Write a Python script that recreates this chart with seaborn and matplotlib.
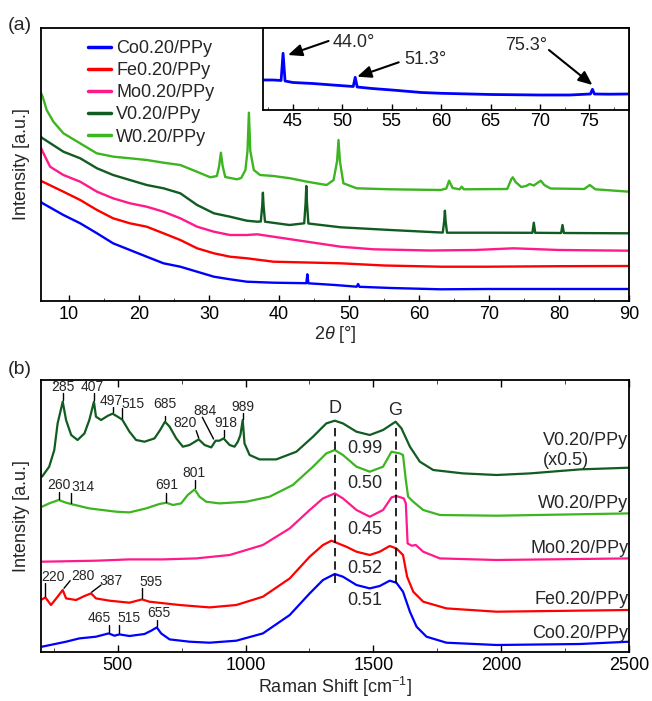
import matplotlib.pyplot as plt
import pandas as pd
import seaborn as sns
from matplotlib.ticker import MultipleLocator

sns.set_style('ticks')
plt.rcParams['font.family'] = ['Liberation Sans', 'DejaVu Sans']
plt.rcParams['mathtext.fontset'] = 'custom'
plt.rcParams['mathtext.rm'] = 'Liberation Sans'
plt.rcParams['mathtext.it'] = 'Liberation Sans:italic'

samples = ['Co0.20/PPy', 'Fe0.20/PPy', 'Mo0.20/PPy', 'V0.20/PPy', 'W0.20/PPy']
colors = ['#0000ff', '#ff0000', '#ff1a8c', '#115c20', '#3cb521']

# ---- XRD, offset intensity (a.u.) ----
co_tt = [6.0, 6.24, 9.2, 11.6, 14.0, 16.3, 18.7, 21.1, 23.5, 25.9, 28.3, 30.7, 33.0, 35.4, 39.2,
         43.9, 44.05, 44.2, 48.0, 51.1, 51.3, 51.5, 56.0, 63.1, 70.0, 80.0, 90.0]
co_xrd = [99, 97.7, 86, 77.7, 67.7, 57.7, 51, 44.3, 37.7, 34.3, 29.3, 24.3, 21.7, 19.3, 18.3,
          17.8, 26.7, 17.7, 16, 14.3, 17, 14.2, 13, 11.7, 12, 12, 12]

fe_tt = [6.0, 6.24, 9.2, 11.6, 14.0, 16.3, 18.7, 21.1, 23.5, 25.9, 28.3, 30.7, 33.0, 35.4, 39.2,
         44.0, 48.8, 55.0, 63.1, 70.0, 80.0, 90.0]
fe_xrd = [120, 119.3, 109.3, 101, 91, 82.7, 77.7, 74.3, 67.7, 61, 52.7, 47.7, 44.3, 42.7, 39.3,
          38.5, 37.7, 35.5, 34.3, 34.3, 34.8, 35]

mo_tt = [6.0, 6.24, 7.3, 9.2, 11.6, 14.0, 16.3, 18.7, 21.1, 23.5, 25.9, 28.3, 30.7, 33.0, 35.4,
         36.9, 39.2, 44.0, 48.8, 53.5, 61.6, 68.0, 73.5, 80.0, 90.0]
mo_xrd = [153, 149.3, 134.3, 126, 119.3, 109.3, 102.7, 97.7, 94.3, 89.3, 82.7, 74.3, 69.3, 66, 66,
          66.7, 64.3, 59.3, 54.3, 51.7, 50.5, 51, 52.7, 51, 50.3]

v_tt = [6.0, 6.24, 9.2, 11.6, 14.0, 16.3, 18.7, 21.1, 23.5, 25.9, 28.3, 30.7, 33.0, 35.4, 36.9,
        37.4, 37.6, 37.7, 37.8, 38.0, 41.5, 43.6, 43.8, 43.9, 44.0, 44.2, 48.8, 55.9, 63.1,
        63.4, 63.6, 63.7, 63.8, 64.0, 70.0, 76.2, 76.4, 76.6, 80.3, 80.5, 80.7, 90.0]
v_xrd = [164, 162.7, 149.3, 142.7, 132.7, 126, 121, 116, 112.7, 107.7, 96, 87.7, 84.3, 80.3, 79.3,
         79.5, 95, 108.3, 95, 79.3, 76, 77.7, 98, 115, 98, 77.5, 73.7, 71, 68.5,
         68.5, 80, 90.3, 80, 68.3, 68.3, 68.2, 78.3, 68.2, 68, 76, 68, 67.7]

w_tt = [6.0, 6.24, 6.81, 7.77, 9.2, 11.58, 13.96, 16.35, 18.73, 21.12, 23.5, 25.89, 28.27, 30.18,
        31.13, 31.45, 31.7, 31.95, 32.32, 33.99, 34.6, 35.2, 35.5, 35.7, 35.9, 36.4, 37.3, 39.2,
        41.6, 44.0, 46.8, 47.8, 48.3, 48.5, 48.7, 49.2, 51.1, 55.9, 63.1, 63.9, 64.3, 64.8, 65.8,
        66.1, 66.4, 72.6, 73.2, 73.4, 73.8, 74.6, 75.3, 75.8, 76.4, 77.0, 77.4, 77.9, 78.8, 83.6,
        84.4, 85.2, 90.0]
w_xrd = [208, 204.3, 191, 179.3, 167.7, 157.7, 147.7, 144.3, 142.7, 141, 138.3, 136, 129.3, 123.7,
         125, 135, 148.3, 135, 124, 121.7, 123, 131, 150, 188.3, 150, 131, 126, 125,
         122.7, 119.3, 116, 121, 140, 161, 140, 117.7, 112.7, 111.7, 111, 112.5, 120.3, 113, 111.7,
         114.3, 111.7, 112, 122, 123.7, 119, 114, 115, 117, 115.5, 118.5, 120.3, 116, 112.5, 112,
         116, 111.7, 109.3]

# inset: Co0.20/PPy zoom
inset_tt = [42.0, 43.0, 43.8, 44.0, 44.2, 45.0, 47.0, 49.0, 51.1, 51.3, 51.5, 53.0, 55.0, 58.0,
            60.0, 65.0, 70.0, 73.0, 75.1, 75.3, 75.5, 77.0, 79.0]
inset_xrd = [30, 30, 29.5, 56.7, 29, 27.5, 26.5, 25, 23.5, 32.7, 23, 21.5, 20, 17.5,
             16.7, 15.5, 15, 15, 16, 20.7, 16, 15.8, 16]

# ---- Raman, offset intensity (a.u.) ----
co_rs = [204, 298, 350, 415, 465, 487, 507, 546, 605, 631, 653, 670, 703, 781, 859, 964, 1068,
         1173, 1251, 1303, 1349, 1381, 1434, 1486, 1525, 1564, 1590, 1616, 1643, 1669, 1708,
         1786, 1982, 2308, 2500]
co_int = [5, 10, 13.3, 15, 18.3, 16, 17.3, 15.7, 17.7, 21, 24.3, 18.3, 12.3, 10, 9, 11, 18.3,
          36.7, 58.3, 71.7, 77.7, 75, 66.7, 63.3, 65.7, 71, 69, 60, 40, 25, 15,
          9, 6.7, 7.7, 10]

fe_rs = [204, 217, 239, 265, 285, 298, 337, 370, 396, 415, 468, 546, 595, 624, 742, 859, 964,
         1068, 1173, 1251, 1303, 1336, 1394, 1434, 1486, 1525, 1564, 1590, 1616, 1632, 1656,
         1695, 1786, 1982, 2500]
fe_int = [52.3, 54.3, 46.7, 55, 61.7, 53.3, 51.7, 55.7, 58.3, 53.3, 51, 49, 52.3, 50, 46.7, 44.3,
          46.7, 55, 73.3, 95, 106.7, 111, 105, 100, 96.7, 100, 105.7, 103.3, 96.7, 75, 60,
          50, 43.3, 40, 41.7]

mo_rs = [204, 415, 546, 676, 807, 938, 1068, 1173, 1251, 1303, 1349, 1381, 1434, 1486, 1538,
         1571, 1590, 1619, 1627, 1634, 1650, 1666, 1695, 1760, 1982, 2500]
mo_int = [90, 91, 92.3, 92.3, 93.3, 96.7, 106.7, 123.3, 141.7, 153.3, 158.3, 153.3, 141.7, 135,
          141.7, 154.3, 155.7, 153.3, 148.3, 108.3, 106, 106.7, 100, 93.3, 91.7, 93.3]

v_rs = [204, 232, 252, 265, 285, 298, 318, 343, 370, 389, 407, 415, 435, 462, 480, 500, 518,
        546, 572, 605, 644, 666, 685, 703, 729, 755, 781, 817, 840, 866, 883, 898, 914, 938,
        957, 970, 980, 989, 996, 1016, 1055, 1120, 1199, 1264, 1316, 1349, 1381, 1434, 1486,
        1538, 1587, 1610, 1643, 1682, 1734, 1851, 1982, 2113, 2308, 2500]
v_int = [175, 185, 201.7, 228.3, 250, 231.7, 216.7, 211.7, 218.3, 231.7, 250, 235, 231.7, 236,
         238, 235, 232, 220, 211.7, 210, 213.3, 221.7, 230, 225, 213.3, 205, 206.7, 212.3,
         206.7, 204.3, 211, 211, 213.3, 206.7, 205, 210, 216.7, 231.7, 208.3, 196.7, 192.3,
         192.3, 200, 215, 228.3, 231, 228.3, 220, 216.7, 221.7, 230, 223.3, 205, 190, 181.7,
         178.3, 176.7, 178.3, 182.3, 184]

w_rs = [204, 232, 269, 298, 317, 389, 494, 546, 611, 663, 690, 716, 748, 774, 801, 820, 846, 898,
        1003, 1094, 1185, 1264, 1316, 1349, 1381, 1434, 1486, 1538, 1571, 1603, 1616, 1627,
        1636, 1656, 1695, 1760, 1982, 2500]
w_int = [145, 148.3, 151.7, 149, 147.7, 143.3, 140, 139.3, 143.3, 147.7, 149, 146.7, 148.3,
         156.7, 162.3, 155, 150, 148.3, 150, 155, 166.7, 185, 198.3, 201.7, 196.7, 185, 180, 185,
         200, 198.3, 196.7, 171.7, 155, 150, 141.7, 136.7, 136, 138.3]

d_band, g_band = 1349, 1587
id_ig = ['0.99', '0.50', '0.45', '0.52', '0.51']

# ---- figure ----
W, H = 652, 701
fig = plt.figure(figsize=(W / 100, H / 100), dpi=100)
ax1 = fig.add_axes([41 / W, (H - 301) / H, 588 / W, 273 / H])
ax2 = fig.add_axes([41 / W, (H - 651.7) / H, 588 / W, 272.2 / H])
axi = fig.add_axes([263.3 / W, (H - 110) / H, 365.7 / W, 82 / H])

xrd = pd.concat([pd.DataFrame({'tt': t, 'y': y, 'sample': s}) for t, y, s in
                 zip([co_tt, fe_tt, mo_tt, v_tt, w_tt], [co_xrd, fe_xrd, mo_xrd, v_xrd, w_xrd], samples)],
                ignore_index=True)
sns.lineplot(data=xrd, x='tt', y='y', hue='sample', hue_order=samples, palette=colors,
             sort=False, estimator=None, lw=1.7, ax=ax1)
ax1.set_xlim(6, 90)
ax1.set_ylim(0, 273)
ax1.set_yticks([])
ax1.xaxis.set_major_locator(MultipleLocator(10))
ax1.xaxis.set_minor_locator(MultipleLocator(5))
ax1.tick_params(axis='x', which='both', direction='in', top=False, labelsize=13)
ax1.tick_params(axis='x', which='major', length=4)
ax1.tick_params(axis='x', which='minor', length=2)
ax1.set_xlabel(r'2$\mathit{\theta}$ [°]', fontsize=13, labelpad=1)
ax1.set_ylabel('Intensity [a.u.]', fontsize=13, labelpad=8)
h, l = ax1.get_legend_handles_labels()
ax1.legend(h, l, loc='upper left', bbox_to_anchor=(0.08, 0.955), frameon=False, fontsize=13,
           handlelength=1.25, handletextpad=0.3, labelspacing=0.28, borderaxespad=0, borderpad=0)
for lh in ax1.get_legend().get_lines():
    lh.set_linewidth(2.5)

# inset
sns.lineplot(x=inset_tt, y=inset_xrd, color=colors[0], lw=2, sort=False, estimator=None, ax=axi)
axi.set_xlim(42, 79)
axi.set_ylim(0, 82)
axi.set_yticks([])
axi.xaxis.set_major_locator(MultipleLocator(5))
axi.xaxis.set_minor_locator(MultipleLocator(2.5))
axi.tick_params(axis='x', which='both', direction='in', labelsize=13, pad=2)
axi.tick_params(axis='x', which='major', length=4)
axi.tick_params(axis='x', which='minor', length=2)
arrow = dict(arrowstyle='-|>,head_length=0.7,head_width=0.3', color='black', lw=1.5,
             mutation_scale=12, shrinkA=0, shrinkB=0)
axi.annotate('', xy=(44.5, 55), xytext=(48.6, 69), arrowprops=arrow)
axi.text(49.0, 67.3, '44.0°', fontsize=13, ha='left', va='center')
axi.annotate('', xy=(51.5, 33.3), xytext=(55.7, 47.7), arrowprops=arrow)
axi.text(56.3, 50, '51.3°', fontsize=13, ha='left', va='center')
axi.annotate('', xy=(75.3, 25), xytext=(70.9, 60), arrowprops=arrow)
axi.text(70.7, 64.3, '75.3°', fontsize=13, ha='right', va='center')

# Raman
raman = pd.concat([pd.DataFrame({'rs': x, 'y': y, 'sample': s}) for x, y, s in
                   zip([co_rs, fe_rs, mo_rs, v_rs, w_rs], [co_int, fe_int, mo_int, v_int, w_int], samples)],
                  ignore_index=True)
sns.lineplot(data=raman, x='rs', y='y', hue='sample', hue_order=samples, palette=colors,
             sort=False, estimator=None, lw=1.6, legend=False, ax=ax2)
ax2.set_xlim(200, 2500)
ax2.set_ylim(0, 272.2)
ax2.set_yticks([])
ax2.xaxis.set_major_locator(MultipleLocator(500))
ax2.xaxis.set_minor_locator(MultipleLocator(250))
ax2.tick_params(axis='x', which='both', direction='in', top=True, labelsize=13)
ax2.tick_params(axis='x', which='major', length=5)
ax2.tick_params(axis='x', which='minor', length=3)
ax2.set_xlabel('Raman Shift [cm$^{-1}$]', fontsize=13, labelpad=1)
ax2.set_ylabel('Intensity [a.u.]', fontsize=13, labelpad=8)

ax2.vlines([d_band, g_band], 68.7, 226.7, colors='black', lw=1.2, linestyles=(0, (5, 3)))
ax2.text(d_band, 243.4, 'D', fontsize=13, ha='center', va='center')
ax2.text(g_band, 241.7, 'G', fontsize=13, ha='center', va='center')
for txt, yy in zip(id_ig, [203.4, 168.4, 122.4, 83.4, 51]):
    ax2.text(1466, yy, txt, fontsize=13, ha='center', va='center')

for txt, yy in zip(['V0.20/PPy', 'W0.20/PPy', 'Mo0.20/PPy', 'Fe0.20/PPy', 'Co0.20/PPy'],
                   [211.7, 148.4, 103.4, 52.4, 18.4]):
    ax2.text(2497, yy, txt, fontsize=13, ha='right', va='center')
ax2.text(2165, 191.7, '(x0.5)', fontsize=13, ha='left', va='center')

# peak labels: text, text x, text y, leader line x0, y0, x1, y1
peak_labels = [
    ('285', 287, 265, 285, 251.5, 285, 258.4), ('407', 402, 265, 407, 251.5, 407, 258.4),
    ('497', 474, 251, 480, 239.5, 480, 245), ('515', 559, 247.7, 518, 233.4, 518, 243.4),
    ('685', 683, 247.7, 685, 231.5, 685, 236), ('820', 765, 228.4, 807, 221, 817, 213.6),
    ('884', 840, 241, 831, 234.4, 875, 212.7), ('918', 925, 228.4, 914, 214.5, 914, 221.7),
    ('989', 990, 244.4, 989, 233, 989, 239),
    ('260', 269, 166.7, 269, 152.8, 269, 160), ('314', 363, 164.4, 317, 149, 317, 159),
    ('691', 690, 166.7, 690, 150.2, 690, 158.4), ('801', 798, 178.4, 801, 163.5, 801, 171.7),
    ('220', 245, 75, 217, 55.5, 217, 68.4), ('280', 363, 75.7, 290, 63.4, 314, 71),
    ('387', 474, 71, 398, 59.5, 435, 66.7), ('595', 631, 70, 595, 53.6, 595, 63.4),
    ('465', 428, 33.4, 465, 19.5, 465, 26.7), ('515', 546, 33.4, 507, 18.5, 507, 26.7),
    ('655', 663, 38.4, 653, 25.5, 653, 31.7),
]
for txt, tx, ty, x0, y0, x1, y1 in peak_labels:
    ax2.plot([x0, x1], [y0, y1], color='black', lw=1)
    ax2.text(tx, ty, txt, fontsize=10, ha='center', va='center')

for ax in (ax1, ax2, axi):
    for sp in ax.spines.values():
        sp.set_linewidth(1.3)
        sp.set_color('black')
    ax.tick_params(colors='black', width=1)

fig.text(20 / W, 1 - 25 / H, '(a)', fontsize=14, ha='center', va='center')
fig.text(20 / W, 1 - 370 / H, '(b)', fontsize=14, ha='center', va='center')

fig.savefig('out.png', dpi=100)
